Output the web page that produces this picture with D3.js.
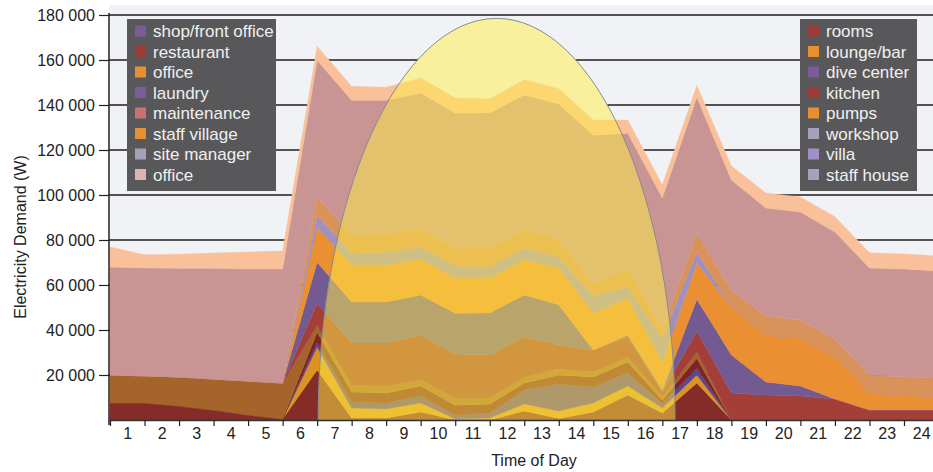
<!DOCTYPE html>
<html>
<head>
<meta charset="utf-8">
<script src="https://cdn.jsdelivr.net/npm/d3@7"></script>
<style>
  body { margin: 0; background: #ffffff; }
  svg { display: block; font-family: "Liberation Sans", Arial, Helvetica, sans-serif; }
</style>
</head>
<body>
<svg id="chart" width="933" height="472"></svg>
<script>
// Hour labels on the x axis (each label sits in the middle of its hour band)
const hours = [1, 2, 3, 4, 5, 6, 7, 8, 9, 10, 11, 12, 13, 14, 15, 16, 17, 18, 19, 20, 21, 22, 23, 24];
// Times at which the demand values are sampled (the band boundaries)
const pointTimes = [0.5, 1.5, 2.5, 3.5, 4.5, 5.5, 6.5, 7.5, 8.5, 9.5, 10.5, 11.5, 12.5,
                    13.5, 14.5, 15.5, 16.5, 17.5, 18.5, 19.5, 20.5, 21.5, 22.5, 23.5, 24.5];

// Demand per consumer (W), stacked bottom to top
const rooms        = [7600, 7600, 6200, 4400, 2200, 400, 22200, 900, 900, 3600, 0, 0, 4000, 700, 3600, 11100, 3100, 16400, 0, 0, 0, 0, 0, 0, 0];
const loungeBar    = [0, 0, 0, 0, 0, 0, 10200, 4400, 4000, 4000, 400, 900, 3100, 3300, 4000, 4000, 2200, 3600, 0, 0, 0, 0, 0, 0, 0];
const diveCenter   = [0, 0, 0, 0, 0, 0, 2200, 2700, 2700, 3100, 1800, 2200, 6200, 12000, 7100, 5800, 1800, 3100, 0, 0, 0, 0, 0, 0, 0];
const kitchen      = [0, 0, 0, 0, 0, 0, 4400, 4400, 4400, 4400, 4400, 4000, 3100, 4000, 4400, 4900, 1800, 4400, 0, 0, 0, 0, 0, 0, 0];
const pumps        = [12400, 12000, 12900, 13800, 15100, 16000, 3100, 3100, 3100, 2700, 3100, 2700, 2700, 2700, 2200, 2200, 1300, 2700, 0, 0, 0, 0, 0, 0, 0];
const restaurant   = [0, 0, 0, 0, 0, 0, 9800, 18700, 19100, 20000, 19600, 19100, 17800, 10700, 9800, 8900, 2200, 9300, 12000, 11100, 10700, 9300, 4400, 4400, 4400];
const laundry      = [0, 0, 0, 0, 0, 0, 18200, 18200, 18200, 17800, 18200, 18700, 18700, 17800, 0, 900, 900, 14200, 16900, 5800, 4400, 0, 0, 0, 0];
const staffVillage = [0, 0, 0, 0, 0, 0, 15600, 16400, 16400, 16000, 15600, 15600, 15600, 16400, 16400, 16400, 12400, 16000, 21300, 20900, 21300, 18700, 7600, 6700, 5800];
const villa        = [0, 0, 0, 0, 0, 0, 5300, 5300, 5800, 5300, 5300, 4900, 5300, 4900, 8000, 4900, 10700, 4900, 0, 0, 0, 0, 0, 0, 0];
const office       = [0, 0, 0, 0, 0, 0, 8000, 8000, 8400, 8400, 8400, 8400, 8000, 8000, 4900, 8400, 3600, 8400, 7600, 8400, 8000, 8000, 8000, 8000, 8400];
const maintenance  = [48000, 48000, 48400, 49300, 49800, 50700, 60900, 60000, 59100, 60000, 59600, 60000, 60000, 60000, 66200, 60000, 58700, 60400, 48900, 48000, 48000, 47600, 47600, 48000, 47600];
const officeMain   = [8900, 5800, 6200, 6700, 7600, 8000, 6200, 6200, 5800, 6700, 6700, 6200, 6700, 6700, 6700, 5800, 5800, 5300, 6200, 6700, 6700, 6700, 6700, 6700, 6700];

const layerValues = [rooms, loungeBar, diveCenter, kitchen, pumps, restaurant, laundry,
                     staffVillage, villa, office, maintenance, officeMain];
const layerColors = ["#862c28", "#dc9420", "#5e4590", "#7e2424", "#a5652a", "#a43e38", "#735a93",
                     "#ea8f32", "#a090c0", "#d9925a", "#c99594", "#f9c09a"];

// Daylight curve: sunrise, sunset (in hours) and peak height (W scale)
const sunRise = 6.53;
const sunSet = 16.87;
const sunPeak = 178500;

// Legend entries
const legendLeft = ["shop/front office", "restaurant", "office", "laundry", "maintenance", "staff village", "site manager", "office"];
const legendLeftColors = ["#7a5c9a", "#9e3a38", "#e8902e", "#7a5c9a", "#c87370", "#e8902e", "#a8a0b8", "#d9b4b0"];
const legendRight = ["rooms", "lounge/bar", "dive center", "kitchen", "pumps", "workshop", "villa", "staff house"];
const legendRightColors = ["#9e3a38", "#e8902e", "#7a5c9a", "#9e3a38", "#e8902e", "#a8a0b8", "#a090c8", "#a8a0b8"];

const yTicks = [20000, 40000, 60000, 80000, 100000, 120000, 140000, 160000, 180000];

const W = 933, H = 472;
const plot = { left: 109, right: 933, top: 5, bottom: 420 };

const svg = d3.select("#chart");
const x = d3.scaleLinear().domain([0.5, 24.5]).range([110, 938.5]);
const y = d3.scaleLinear().domain([0, 180000]).range([420, 15]);

const fmt = d3.formatLocale({ decimal: ".", thousands: "\u00a0", grouping: [3], currency: ["", ""] }).format(",");

const defs = svg.append("defs");
defs.append("clipPath").attr("id", "plotClip")
  .append("rect").attr("x", plot.left).attr("y", plot.top)
  .attr("width", plot.right - plot.left).attr("height", plot.bottom - plot.top);

// Half-ellipse for daylight hours
const sx0 = x(sunRise), sx1 = x(sunSet);
const srx = (sx1 - sx0) / 2, sry = y(0) - y(sunPeak);
const sunPath = `M${sx0},${y(0)} A${srx},${sry} 0 0 1 ${sx1},${y(0)} Z`;

const mask = defs.append("mask").attr("id", "noSun");
mask.append("rect").attr("x", 0).attr("y", 0).attr("width", W).attr("height", H).attr("fill", "#fff");
mask.append("path").attr("d", sunPath).attr("fill", "#000");

// Plot background
svg.append("rect").attr("x", plot.left).attr("y", plot.top)
  .attr("width", plot.right - plot.left).attr("height", plot.bottom - plot.top)
  .attr("fill", "#f1f2f5");

// Gridlines
svg.append("g").attr("mask", "url(#noSun)")
  .selectAll("line").data(yTicks).join("line")
  .attr("x1", plot.left).attr("x2", plot.right)
  .attr("y1", d => y(d)).attr("y2", d => y(d))
  .attr("stroke", "#1e1e1e").attr("stroke-width", 1.4);

// Stacked areas
const table = pointTimes.map((t, i) => {
  const row = { t };
  layerValues.forEach((vals, k) => { row[k] = vals[i]; });
  return row;
});
const stack = d3.stack().keys(d3.range(layerValues.length));
const series = stack(table);
const area = d3.area()
  .x(d => x(d.data.t))
  .y0(d => y(d[0]))
  .y1(d => y(d[1]));

svg.append("g").attr("clip-path", "url(#plotClip)")
  .selectAll("path").data(series).join("path")
  .attr("d", area)
  .attr("fill", (d, i) => layerColors[i])
  .attr("stroke", (d, i) => layerColors[i])
  .attr("stroke-width", 0.4);

// Daylight overlay
svg.append("path").attr("d", sunPath)
  .attr("fill", "rgb(255,238,70)").attr("fill-opacity", 0.5)
  .attr("stroke", "#8a8a8a").attr("stroke-width", 1);

// Y axis
const yAxis = svg.append("g").attr("transform", `translate(${plot.left},0)`)
  .call(d3.axisLeft(y).tickValues(yTicks).tickSize(10).tickSizeOuter(0).tickPadding(4).tickFormat(fmt));
yAxis.select(".domain").attr("stroke", "#222").attr("stroke-width", 1.5).attr("d", `M0,${y(180000) - 2}V425`);
yAxis.selectAll(".tick line").attr("stroke", "#222").attr("stroke-width", 1.2);
yAxis.selectAll("text").attr("fill", "#222").attr("font-size", 16).attr("font-family", "Liberation Sans, Arial, sans-serif");

// X axis: tick marks at band boundaries, labels at band centres
const xTicksG = svg.append("g").attr("transform", `translate(0,${plot.bottom})`)
  .call(d3.axisBottom(x).tickValues(pointTimes).tickSize(6).tickSizeOuter(0).tickFormat(""));
xTicksG.select(".domain").attr("stroke", "#333").attr("stroke-width", 1.5);
xTicksG.selectAll(".tick line").attr("stroke", "#222").attr("stroke-width", 1.2);

const xLabels = svg.append("g").attr("transform", `translate(0,${plot.bottom})`)
  .call(d3.axisBottom(x).tickValues(hours).tickSize(0).tickPadding(8).tickFormat(d3.format("d")));
xLabels.select(".domain").remove();
xLabels.selectAll("text").attr("fill", "#222").attr("font-size", 16).attr("font-family", "Liberation Sans, Arial, sans-serif");

// Axis titles
svg.append("text").attr("x", 534).attr("y", 466).attr("text-anchor", "middle")
  .attr("font-size", 16).attr("fill", "#222").text("Time of Day");
svg.append("text").attr("transform", "translate(26,237) rotate(-90)").attr("text-anchor", "middle")
  .attr("font-size", 16).attr("fill", "#222").text("Electricity Demand (W)");

// Legends
function drawLegend(bx, bw, names, colors) {
  const g = svg.append("g");
  g.append("rect").attr("x", bx).attr("y", 19).attr("width", bw).attr("height", 172).attr("fill", "#58585a");
  const rowY = (i) => 31 + i * 20.5;
  g.selectAll("rect.sw").data(names).join("rect").attr("class", "sw")
    .attr("x", bx + 8).attr("y", (d, i) => rowY(i) - 5.5)
    .attr("width", 11).attr("height", 11)
    .attr("fill", (d, i) => colors[i]);
  g.selectAll("text").data(names).join("text")
    .attr("x", bx + 26).attr("y", (d, i) => rowY(i) + 6)
    .attr("font-size", 17).attr("fill", "#f0f0f0").text(d => d);
}
drawLegend(127, 149, legendLeft, legendLeftColors);
drawLegend(800, 117, legendRight, legendRightColors);
</script>
</body>
</html>
